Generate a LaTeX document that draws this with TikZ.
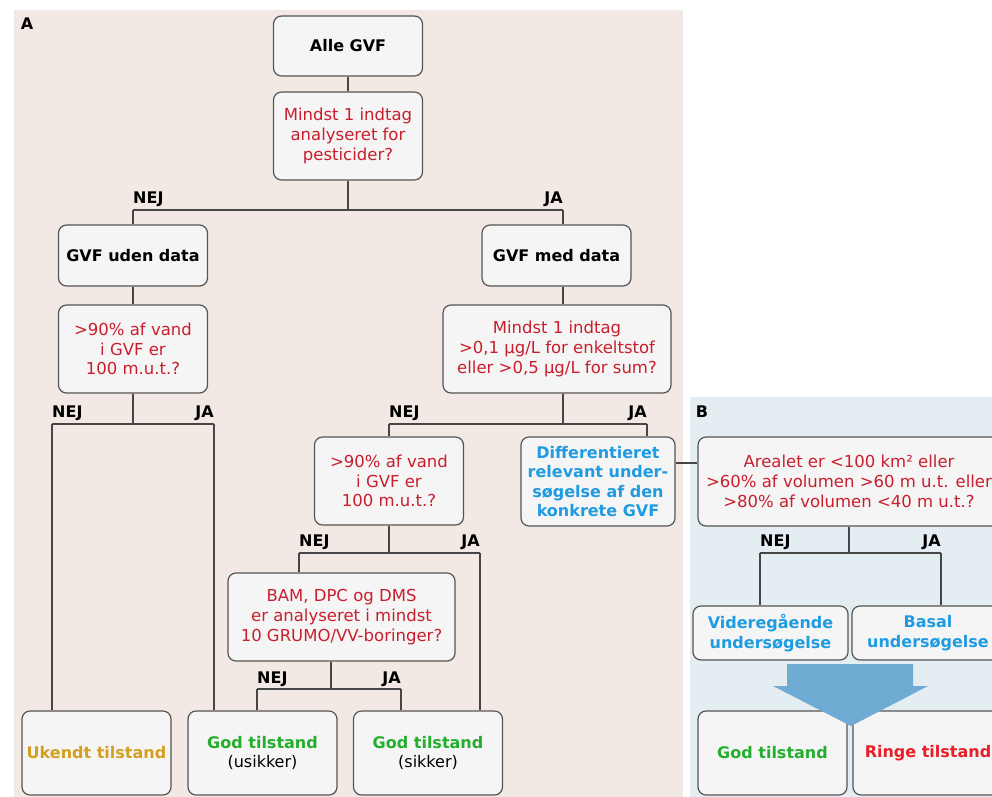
\documentclass[tikz,border=0pt]{standalone}
\usepackage{fontspec}
\setmainfont{DejaVu Sans}
\usepackage{xcolor}

\definecolor{panelA}{RGB}{243,233,228}
\definecolor{panelB}{RGB}{227,237,242}
\definecolor{boxfill}{RGB}{245,245,245}
\definecolor{boxline}{RGB}{85,85,85}
\definecolor{linkcol}{RGB}{70,70,70}
\definecolor{qred}{RGB}{200,30,45}
\definecolor{skyblue}{RGB}{30,155,225}
\definecolor{okgreen}{RGB}{35,175,45}
\definecolor{unkorange}{RGB}{210,160,30}
\definecolor{badred}{RGB}{232,30,40}
\definecolor{arrowblue}{RGB}{112,171,212}

\tikzset{
	box/.style={draw=boxline, fill=boxfill, rounded corners=8pt, line width=1.2pt, align=center, inner sep=2pt, font=\fontsize{16.5}{19.8}\selectfont},
	question/.style={box, text=qred, minimum height=88pt},
	boldbox/.style={box, font=\fontsize{16}{19.6}\selectfont\bfseries},
	endbox/.style={boldbox, minimum width=149pt, minimum height=84pt},
	link/.style={draw=linkcol, line width=1.2pt},
	lbl/.style={font=\fontsize{16}{19}\selectfont\bfseries, inner sep=0pt}
}

\begin{document}
\begin{tikzpicture}[x=1pt,y=-1pt]
				\useasboundingbox (0,0) rectangle (992,796);
				\clip (0,0) rectangle (992,796);
				\fill[white] (0,0) rectangle (992,796);
				\fill[panelA] (14,10) rectangle (683,800);
				\fill[panelB] (690,397) rectangle (1000,800);
				\node[lbl] (panela) at (27,24) {A};
				\node[lbl] (panelb) at (702,412) {B};

				\node[boldbox, minimum width=149pt, minimum height=60pt] (alle) at (348,46) {Alle GVF};
				\node[question, minimum width=149pt] (pest) at (348,136) {Mindst 1 indtag\\analyseret for\\pesticider?};
				\node[boldbox, minimum width=149pt, minimum height=61pt] (uden) at (133,255.5) {GVF uden data};
				\node[boldbox, minimum width=149pt, minimum height=61pt] (med) at (556.5,255.5) {GVF med data};
				\node[question, minimum width=149pt] (dybA) at (133,349) {>90\% af vand\\i GVF er\\100 m.u.t.?};
				\node[question, minimum width=228pt] (fund) at (557,349) {Mindst 1 indtag\\>0,1 µg/L for enkeltstof\\eller >0,5 µg/L for sum?};
				\node[question, minimum width=149pt] (dybB) at (389,481) {>90\% af vand\\i GVF er\\100 m.u.t.?};
				\node[boldbox, text=skyblue, minimum width=154pt, minimum height=89pt] (diff) at (598,481.5) {Differentieret\\relevant under-\\søgelse af den\\konkrete GVF};
				\node[question, minimum width=227pt] (bam) at (341.5,617) {BAM, DPC og DMS\\er analyseret i mindst\\10 GRUMO/VV-boringer?};
				\node[endbox, text=unkorange] (ukendt) at (96.5,753) {Ukendt tilstand};
				\node[endbox, text=okgreen] (usikker) at (262.5,753) {God tilstand\\\textcolor{black}{\mdseries(usikker)}};
				\node[endbox, text=okgreen] (sikker) at (428,753) {God tilstand\\\textcolor{black}{\mdseries(sikker)}};

				\node[question, minimum width=302pt, minimum height=89pt] (areal) at (849,481.5) {Arealet er <100 km² eller\\>60\% af volumen >60 m u.t. eller\\>80\% af volumen <40 m u.t.?};
				\node[boldbox, text=skyblue, minimum width=155pt, minimum height=54pt] (videre) at (770.5,633) {Videregående\\undersøgelse};
				\node[boldbox, text=skyblue, minimum width=152pt, minimum height=54pt] (basal) at (928,633) {Basal\\undersøgelse};
				\node[endbox] (godB) at (772.5,753) {\textcolor{okgreen}{God tilstand}};
				\node[endbox, minimum width=150pt] (ringe) at (928,753) {\textcolor{badred}{Ringe tilstand}};

				\coordinate (nej1) at (133,210);
				\coordinate (ja1) at (563,210);
				\coordinate (nej2) at (52,424);
				\coordinate (ja2) at (214,424);
				\coordinate (nej3) at (389,424);
				\coordinate (ja3) at (647,424);
				\coordinate (nej4) at (299,553);
				\coordinate (ja4) at (480,553);
				\coordinate (mid5) at (331,689);
				\coordinate (nej5) at (257,689);
				\coordinate (ja5) at (401,689);
				\coordinate (side) at (686,463);
				\coordinate (nej6) at (760,553);
				\coordinate (ja6) at (941,553);

				\draw[link] (alle) -- (pest);
				\draw[link] (pest) -- (pest |- nej1);
				\draw[link] (nej1) -- (ja1);
				\draw[link] (nej1) -- (uden);
				\draw[link] (ja1) -- (ja1 |- med.north);
				\draw[link] (uden) -- (dybA);
				\draw[link] (ja1 |- med.south) -- (ja1 |- fund.north);
				\draw[link] (dybA) -- (dybA |- nej2);
				\draw[link] (nej2) -- (ja2);
				\draw[link] (nej2) -- (nej2 |- ukendt.north);
				\draw[link] (ja2) -- (ja2 |- usikker.north);
				\draw[link] (ja1 |- fund.south) -- (ja1 |- nej3);
				\draw[link] (nej3) -- (ja3);
				\draw[link] (nej3) -- (nej3 |- dybB.north);
				\draw[link] (ja3) -- (ja3 |- diff.north);
				\draw[link] (dybB) -- (dybB |- nej4);
				\draw[link] (nej4) -- (ja4);
				\draw[link] (nej4) -- (nej4 |- bam.north);
				\draw[link] (ja4) -- (ja4 |- sikker.north);
				\draw[link] (mid5 |- bam.south) -- (mid5);
				\draw[link] (nej5) -- (ja5);
				\draw[link] (nej5) -- (nej5 |- usikker.north);
				\draw[link] (ja5) -- (ja5 |- sikker.north);
				\draw[link] (diff.east |- side) -- (areal.west |- side);
				\draw[link] (areal) -- (areal |- nej6);
				\draw[link] (nej6) -- (ja6);
				\draw[link] (nej6) -- (nej6 |- videre.north);
				\draw[link] (ja6) -- (ja6 |- basal.north);

				\node[lbl, anchor=base west] (nejpest) at ([yshift=7pt]nej1) {NEJ};
				\node[lbl, anchor=base east] (japest) at ([yshift=7pt]ja1) {JA};
				\node[lbl, anchor=base west] (nejdybA) at ([yshift=7pt]nej2) {NEJ};
				\node[lbl, anchor=base east] (jadybA) at ([yshift=7pt]ja2) {JA};
				\node[lbl, anchor=base west] (nejfund) at ([yshift=7pt]nej3) {NEJ};
				\node[lbl, anchor=base east] (jafund) at ([yshift=7pt]ja3) {JA};
				\node[lbl, anchor=base west] (nejdybB) at ([yshift=7pt]nej4) {NEJ};
				\node[lbl, anchor=base east] (jadybB) at ([yshift=7pt]ja4) {JA};
				\node[lbl, anchor=base west] (nejbam) at ([yshift=6pt]nej5) {NEJ};
				\node[lbl, anchor=base east] (jabam) at ([yshift=6pt]ja5) {JA};
				\node[lbl, anchor=base west] (nejareal) at ([yshift=7pt]nej6) {NEJ};
				\node[lbl, anchor=base east] (jaareal) at ([yshift=7pt]ja6) {JA};

				\fill[arrowblue] (787,664) -- (913,664) -- (913,686) -- (928,686) -- (851,726) -- (773,686) -- (787,686) -- cycle;
			\end{tikzpicture}
\end{document}
